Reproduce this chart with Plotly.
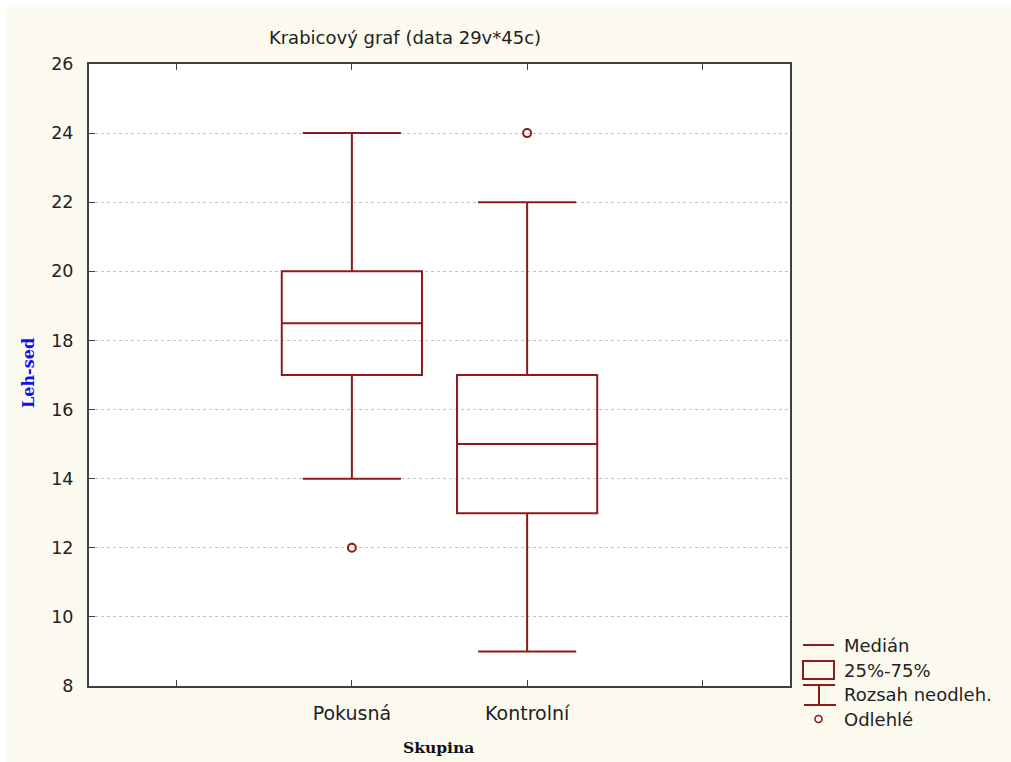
import plotly.graph_objects as go

# ---- data ----
groups = ["Pokusná", "Kontrolní"]
group_pos = [1.5, 2.5]
q1 = [17, 13]
median = [18.5, 15]
q3 = [20, 17]
lower_whisker = [14, 9]
upper_whisker = [24, 22]
outlier_pos = [1.5, 2.5]
outlier_vals = [12, 24]
y_ticks = [8, 10, 12, 14, 16, 18, 20, 22, 24, 26]
x_tickvals = [0.5, 1.5, 2.5, 3.5]
x_ticktext = ["", "Pokusná", "Kontrolní", ""]
legend_labels = ["Medián", "25%-75%", "Rozsah neodleh.", "Odlehlé"]

RED = "#8E1B1B"
CREAM = "#FCFAEF"
OFF = 8  # figure offset in the page (top/left)
W, H = 1011 - OFF, 762 - OFF
# plot area in page pixels
PL, PR, PT, PB = 89, 790, 64, 686
L, R, T, B = PL - OFF, PR - OFF, PT - OFF, PB - OFF

def X(px):
    return (px - PL) / (PR - PL)

def Y(py):
    return (PB - py) / (PB - PT)

fig = go.Figure()
fig.add_trace(go.Box(
    x=group_pos, q1=q1, median=median, q3=q3,
    lowerfence=lower_whisker, upperfence=upper_whisker,
    width=0.8, whiskerwidth=0.7, boxpoints=False,
    line=dict(color=RED, width=2), fillcolor="rgba(0,0,0,0)",
    showlegend=False,
))
fig.add_trace(go.Scatter(
    x=outlier_pos, y=outlier_vals, mode="markers",
    marker=dict(symbol="circle-open", size=8, color=RED, line=dict(width=2, color=RED)),
    showlegend=False,
))

shapes = [
    dict(type="rect", xref="paper", yref="paper", x0=0, x1=1, y0=0, y1=1,
         fillcolor="#FFFFFF", line=dict(width=0), layer="below"),
]
lw = dict(color=RED, width=2)
# legend symbols
shapes.append(dict(type="line", xref="paper", yref="paper", x0=X(803), x1=X(834), y0=Y(645), y1=Y(645), line=lw))
shapes.append(dict(type="rect", xref="paper", yref="paper", x0=X(803), x1=X(834), y0=Y(679), y1=Y(661), line=lw))
shapes.append(dict(type="line", xref="paper", yref="paper", x0=X(803), x1=X(835), y0=Y(685), y1=Y(685), line=lw))
shapes.append(dict(type="line", xref="paper", yref="paper", x0=X(819), x1=X(819), y0=Y(685), y1=Y(705), line=lw))
shapes.append(dict(type="line", xref="paper", yref="paper", x0=X(804), x1=X(836), y0=Y(705), y1=Y(705), line=lw))
shapes.append(dict(type="circle", xref="paper", yref="paper", x0=X(815), x1=X(822), y0=Y(722.5), y1=Y(715.5),
                   line=dict(color=RED, width=1.6)))

annotations = []
for lab, py in zip(legend_labels, [645, 670, 694, 719]):
    annotations.append(dict(text=lab, xref="paper", yref="paper", x=X(842), y=Y(py),
                            xanchor="left", yanchor="middle", showarrow=False,
                            font=dict(family="DejaVu Sans", size=18, color="#222222")))
annotations.append(dict(text="<b>Leh-sed</b>", xref="paper", yref="paper", x=X(28), y=Y(373),
                        textangle=-90, showarrow=False, xanchor="center", yanchor="middle",
                        font=dict(family="DejaVu Serif", size=16, color="#1010F0")))
annotations.append(dict(text="<b>Skupina</b>", xref="paper", yref="paper", x=X(438), y=Y(747),
                        showarrow=False, xanchor="center", yanchor="middle",
                        font=dict(family="DejaVu Serif", size=15.5, color="#111111")))

fig.update_layout(
    width=W, height=H,
    margin=dict(l=L, r=W - R, t=T, b=H - B, pad=0),
    paper_bgcolor=CREAM, plot_bgcolor="rgba(0,0,0,0)",
    title=dict(text="Krabicový graf (data 29v*45c)", xref="paper", x=X(405), xanchor="center",
               yref="container", y=1 - (38 - OFF) / H, yanchor="middle",
               font=dict(family="DejaVu Sans", size=18, color="#222222")),
    shapes=shapes, annotations=annotations,
    showlegend=False,
    xaxis=dict(range=[0, 4], tickmode="array", tickvals=x_tickvals, ticktext=x_ticktext,
               showgrid=False, zeroline=False, showline=True, mirror="ticks",
               linecolor="#404040", linewidth=2, ticks="inside", ticklen=6, tickwidth=1,
               tickcolor="#404040", ticklabelstandoff=9,
               tickfont=dict(family="DejaVu Sans", size=19, color="#222222")),
    yaxis=dict(range=[8, 26], tickmode="array", tickvals=y_ticks,
               showgrid=True, gridcolor="#C4C4C4", griddash="dot", gridwidth=1,
               zeroline=False, showline=True, mirror=True,
               linecolor="#404040", linewidth=2, ticks="inside", ticklen=6, tickwidth=1,
               tickcolor="#404040", ticklabelstandoff=10,
               tickfont=dict(family="DejaVu Sans", size=17.5, color="#222222")),
)

page_css = (
    "document.documentElement.style.background='" + CREAM + "';"
    "var b=document.body.style;b.margin='0';b.background='" + CREAM + "';"
    "b.borderTop='7px solid #ffffff';b.borderLeft='6px solid #ffffff';"
    "b.padding='1px 0 0 2px';b.overflow='hidden';"
)
fig.write_html("out.html", post_script=page_css)
